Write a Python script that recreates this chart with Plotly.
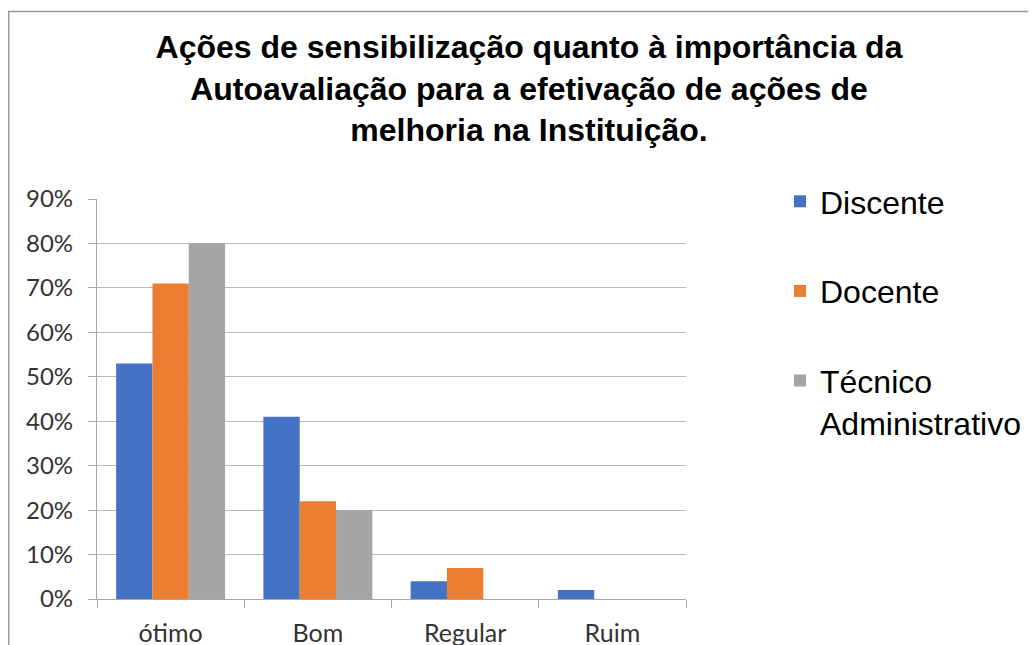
import plotly.graph_objects as go

categories = ["ótimo", "Bom", "Regular", "Ruim"]
discente = [53, 41, 4, 2]
docente = [71, 22, 7, 0]
tecnico = [80, 20, 0, 0]
series_names = ["Discente", "Docente", "Técnico<br>Administrativo"]
colors = ["#4472C4", "#ED7D31", "#A5A5A5"]
y_ticks = [0, 10, 20, 30, 40, 50, 60, 70, 80, 90]
y_tick_text = [f"{v}%" for v in y_ticks]

fig = go.Figure()
for i, (name, vals) in enumerate(zip(series_names, [discente, docente, tecnico])):
    fig.add_trace(go.Bar(x=categories, y=vals, name=name, marker_color=colors[i],
                         marker_line_width=0, legendgroup=str(i)))

OFF = 8  # page body margin
W, H = 1036, 645
L, T = 97 - OFF, 199 - OFF
R = W - (686 - OFF)
B = H - (599 - OFF)
pw, ph = W - L - R, H - T - B

def px2x(px):
    return (px - OFF - L) / pw

def py2y(py):
    return (H - B - (py - OFF)) / ph

fig.add_shape(type="rect", xref="paper", yref="paper",
              x0=px2x(8.7), x1=px2x(1080), y0=py2y(11.5), y1=py2y(720),
              line=dict(color="#9a9a9a", width=1.5), fillcolor="rgba(0,0,0,0)")

fig.update_layout(
    width=W, height=H,
    margin=dict(l=L, r=R, t=T, b=B),
    paper_bgcolor="white", plot_bgcolor="white",
    barmode="group", bargap=0.26, bargroupgap=0,
    title=dict(text="<b>Ações de sensibilização quanto à importância da<br>Autoavaliação para a efetivação de ações de<br>melhoria na Instituição.</b>",
               x=(529 - OFF) / W, xanchor="center", y=1 - (58 - OFF) / H, yanchor="top",
               font=dict(family="Liberation Sans, Arial", size=32, color="#000000")),
    legend=dict(x=px2x(780), xanchor="left", y=py2y(174), yanchor="top",
                font=dict(family="Liberation Sans, Arial", size=32, color="#000000"),
                tracegroupgap=45, itemwidth=30, valign="top", bgcolor="rgba(0,0,0,0)"),
    showlegend=True,
)
fig.update_xaxes(showline=True, linecolor="#a6a6a6", linewidth=1.3,
                 ticks="outside", tickson="boundaries", ticklen=8, tickcolor="#a6a6a6",
                 ticklabelstandoff=12, automargin=False,
                 tickfont=dict(family="Lato, Carlito, Calibri", size=25, color="#333333"),
                 showgrid=False)
fig.update_yaxes(range=[0, 90], tickvals=y_ticks, ticktext=y_tick_text,
                 showline=True, linecolor="#a6a6a6", linewidth=1.3,
                 ticks="outside", ticklen=8, tickcolor="#a6a6a6",
                 ticklabelstandoff=10, automargin=False,
                 showgrid=True, gridcolor="#b8b8b8", gridwidth=1,
                 zeroline=False,
                 tickfont=dict(family="Lato, Carlito, Calibri", size=24, color="#333333"))

fig.write_html("out.html")
